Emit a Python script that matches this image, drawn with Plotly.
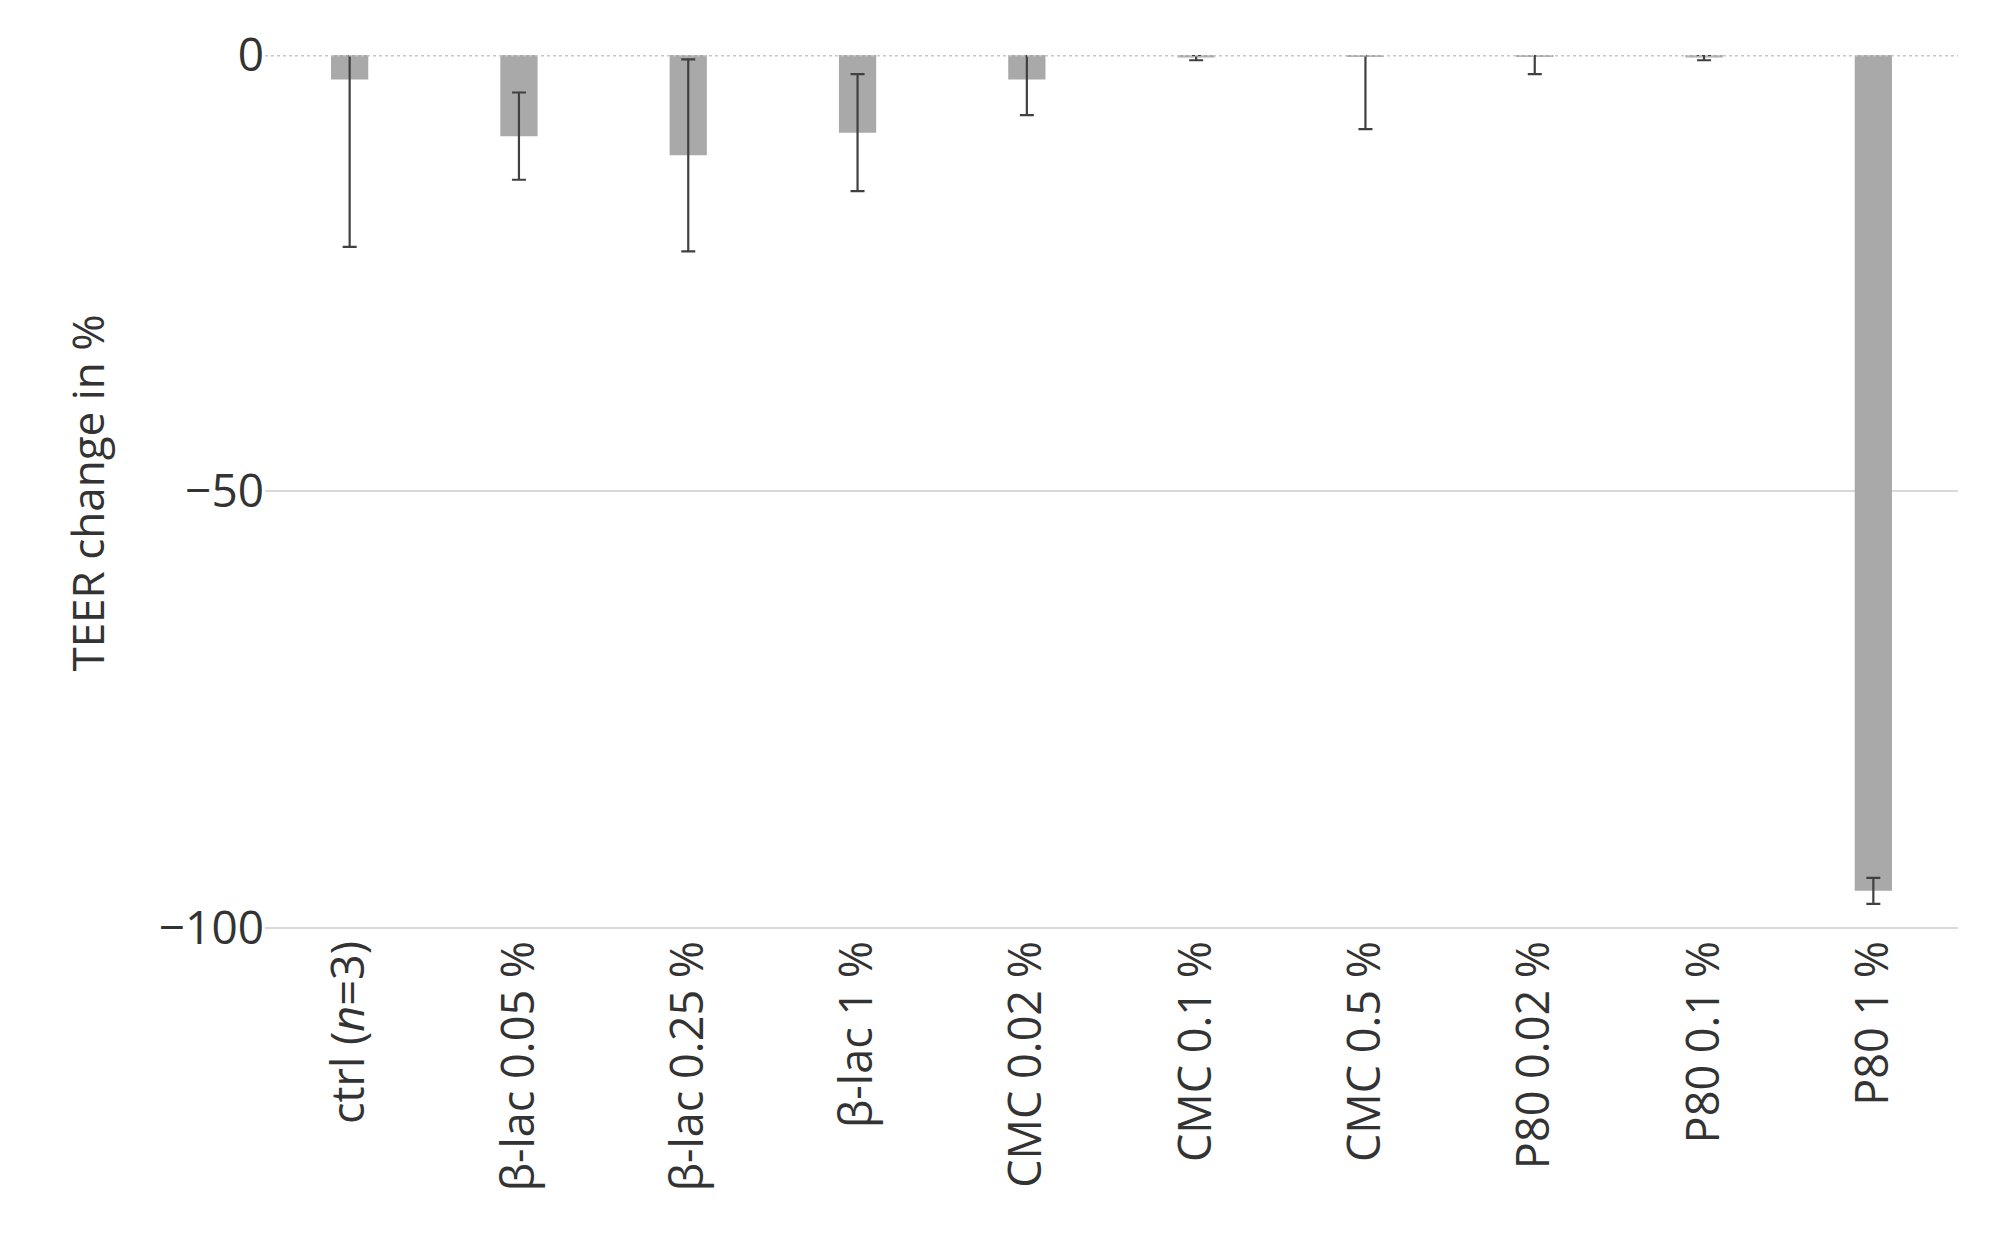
import plotly.graph_objects as go

categories = ["ctrl (<i>n</i>=3)", "β-lac 0.05 %", "β-lac 0.25 %", "β-lac 1 %", "CMC 0.02 %",
              "CMC 0.1 %", "CMC 0.5 %", "P80 0.02 %", "P80 0.1 %", "P80 1 %"]
values = [-2.8, -9.3, -11.5, -8.9, -2.8, -0.3, -0.2, -0.2, -0.3, -95.8]
errors = [19.2, 5.0, 11.0, 6.7, 4.1, 0.3, 8.3, 2.0, 0.3, 1.5]
ytick_vals = [0, -50, -100]
ytick_text = ["0", "−50", "−100"]

fig = go.Figure(go.Bar(
    x=categories, y=values, width=0.22,
    marker=dict(color="#a9a9a9", line=dict(width=0)),
    error_y=dict(type="data", array=errors, visible=True, color="#404040", thickness=2.2, width=7),
))
fig.update_layout(
    width=2000, height=1255, paper_bgcolor="white", plot_bgcolor="white",
    margin=dict(l=257, r=50, t=47, b=332),
    font=dict(family="Open Sans, DejaVu Sans", color="#333333", size=44),
    showlegend=False,
    yaxis=dict(range=[-100.4, 0], tickvals=ytick_vals, ticktext=ytick_text, showgrid=True,
               gridcolor="#d9d9d9", gridwidth=2, zeroline=False, ticks="",
               title=dict(text="TEER change in %", font=dict(size=44), standoff=40),
               tickfont=dict(size=46)),
    xaxis=dict(tickangle=-90, showline=False, ticks="", tickfont=dict(size=45),
               automargin=False, showgrid=False),
)
fig.add_hline(y=0, line=dict(color="#c8c8c8", width=3, dash="dot"))
fig.write_html("out.html")
